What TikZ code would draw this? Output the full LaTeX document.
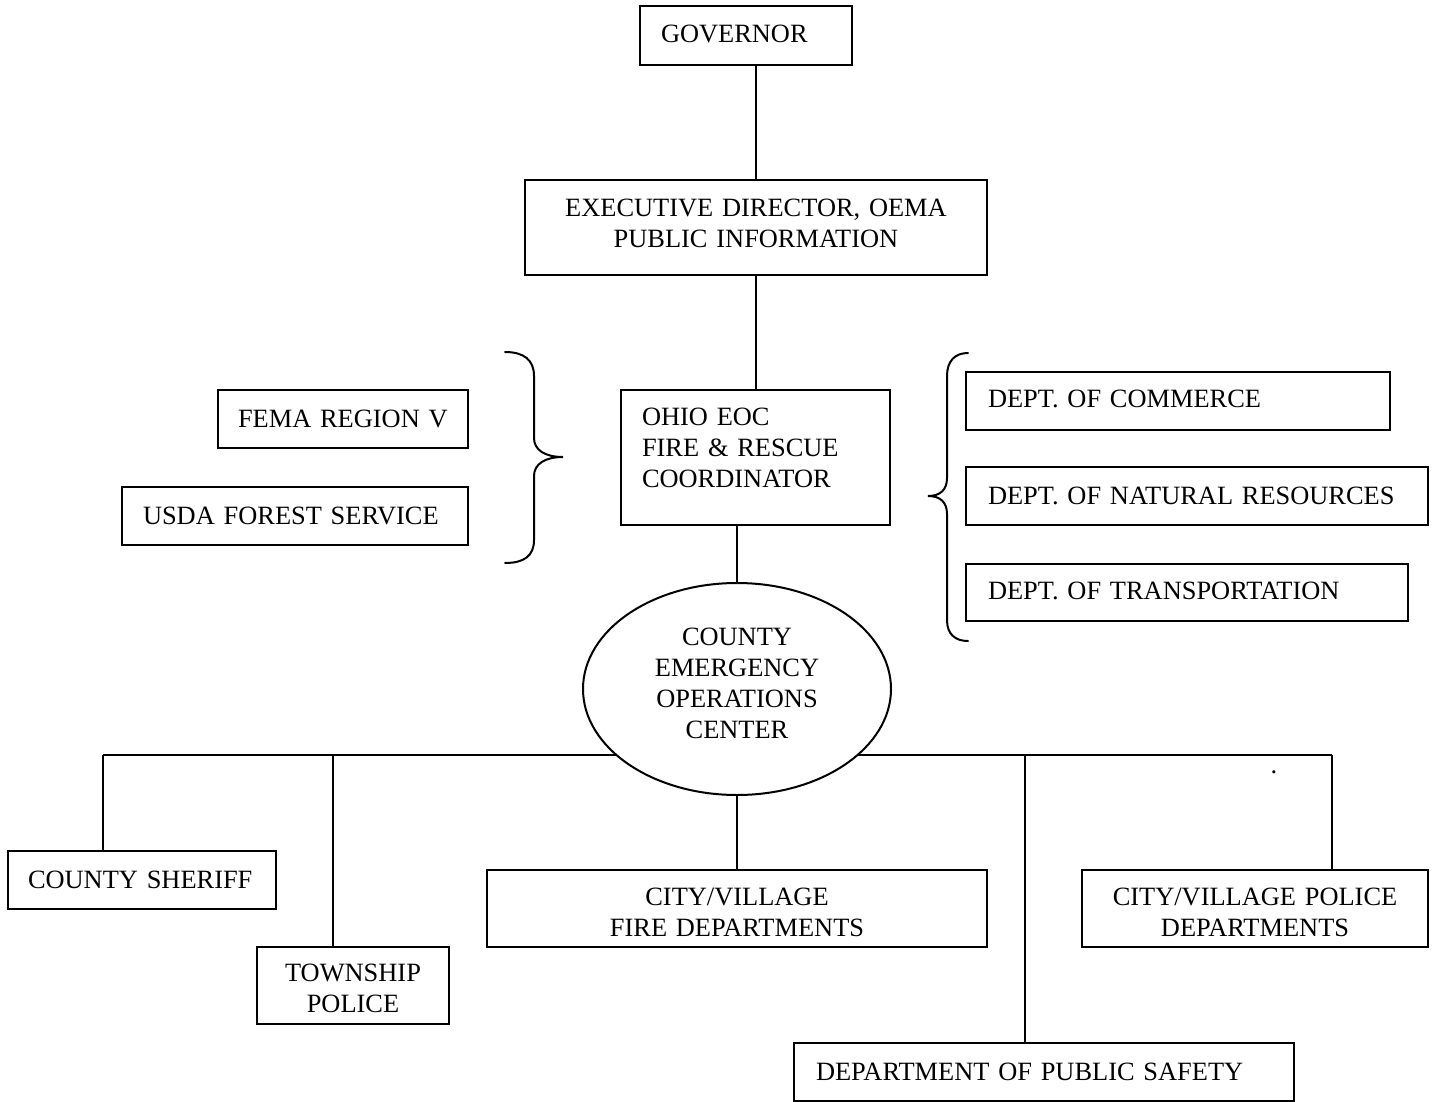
\documentclass[tikz,border=0pt]{standalone}
\usepackage{fontspec}
\setmainfont{Liberation Serif}
\usetikzlibrary{shapes.geometric}
\newcommand{\orgfont}{\fontsize{13.2}{15.5}\selectfont}
\begin{document}
\begin{tikzpicture}[x=0.5pt,y=-0.5pt,
  line width=1pt,
  box/.style={draw, line width=1pt, fill=white, inner sep=0pt, font=\orgfont},
  lbox/.style={box, align=left},
  cbox/.style={box, align=center},
  oval/.style={draw, line width=1pt, fill=white, ellipse, inner sep=0pt, align=center, font=\orgfont},
  link/.style={line width=1pt},
  bracepath/.style={line width=1pt, line cap=round}
]
\useasboundingbox (0,0) rectangle (1440,1102);

% top chain
\node[lbox, minimum width=106pt, minimum height=29.5pt, text width=85pt, inner xsep=10.5pt, text depth=2pt] (gov) at (746,35.5) {GOVERNOR};
\node[cbox, minimum width=231pt, minimum height=47.5pt, text width=231pt, text depth=19.5pt] (exec) at (756,227.5) {EXECUTIVE DIRECTOR, OEMA\\PUBLIC INFORMATION};
\node[lbox, minimum width=134.5pt, minimum height=67.5pt, text width=113.5pt, inner xsep=10.5pt, text depth=41pt] (eoc) at (755.5,457.5) {OHIO EOC\\FIRE \& RESCUE\\COORDINATOR};

% left group
\node[lbox, minimum width=125pt, minimum height=29pt, text width=105pt, inner xsep=10pt] (fema) at (343,419) {\mbox{FEMA REGION V}};
\node[lbox, minimum width=173pt, minimum height=29pt, text width=152pt, inner xsep=10.5pt] (usda) at (295,516) {\mbox{USDA FOREST SERVICE}};

% right group
\node[lbox, minimum width=212pt, minimum height=29pt, text width=190pt, inner xsep=11pt, text depth=2pt] (comm) at (1178,401) {\mbox{DEPT. OF COMMERCE}};
\node[lbox, minimum width=231pt, minimum height=29pt, text width=209pt, inner xsep=11pt] (natres) at (1197,496) {\mbox{DEPT. OF NATURAL RESOURCES}};
\node[lbox, minimum width=221pt, minimum height=28.5pt, text width=199pt, inner xsep=11pt, text depth=2pt] (trans) at (1187,592.5) {\mbox{DEPT. OF TRANSPORTATION}};

% bottom boxes
\node[lbox, minimum width=134pt, minimum height=29pt, text width=114pt, inner xsep=10pt] (sheriff) at (142,880) {\mbox{COUNTY SHERIFF}};
\node[cbox, minimum width=96pt, minimum height=38.5pt, text width=96pt, text depth=12.5pt] (town) at (353,985.5) {TOWNSHIP\\POLICE};
\node[cbox, minimum width=250pt, minimum height=38.5pt, text width=250pt, text depth=11.5pt] (fire) at (737,908.5) {CITY/VILLAGE\\FIRE DEPARTMENTS};
\node[lbox, minimum width=250pt, minimum height=29pt, text width=228pt, inner xsep=11pt] (safety) at (1044,1072) {\mbox{DEPARTMENT OF PUBLIC SAFETY}};
\node[cbox, minimum width=173pt, minimum height=38.5pt, text width=173pt, text depth=11.5pt] (police) at (1255,908.5) {CITY/VILLAGE POLICE\\DEPARTMENTS};

% bus
\coordinate (b1) at (103,755);
\coordinate (b2) at (333,755);
\coordinate (b4) at (1025,755);
\coordinate (b5) at (1332,755);
\draw[link] (b1) -- (b5);
\draw[link] (b1) -- (b1 |- sheriff.north);
\draw[link] (b2) -- (b2 |- town.north);
\draw[link] (b4) -- (b4 |- safety.north);
\draw[link] (b5) -- (b5 |- police.north);

% county EOC
\node[oval, minimum width=154pt, minimum height=106pt, text width=100pt, text depth=52.5pt] (cnty) at (737,689) {COUNTY\\EMERGENCY\\OPERATIONS\\CENTER};

% vertical links
\draw[link] (exec.north) -- (exec.north |- gov.south);
\draw[link] (exec.south) -- (exec.south |- eoc.north);
\draw[link] (cnty.north) -- (cnty.north |- eoc.south);
\draw[link] (cnty.south) -- (fire.north);

% braces
\draw[bracepath] (505,352) .. controls (524,352) and (534,360) .. (534,376) -- (534,438)
  .. controls (534,450) and (545,457) .. (563,457)
  .. controls (545,457) and (534,464) .. (534,476) -- (534,540)
  .. controls (534,556) and (524,563) .. (505,563);
\draw[bracepath] (968,353) .. controls (955,353) and (947,361) .. (947,376) -- (947,478)
  .. controls (947,490) and (940,496) .. (928,496)
  .. controls (940,496) and (947,502) .. (947,514) -- (947,620)
  .. controls (947,634) and (955,641) .. (968,641);

% stray dot
\node[inner sep=0pt, font=\orgfont] (dot) at (1274,772) {.};
\end{tikzpicture}
\end{document}
